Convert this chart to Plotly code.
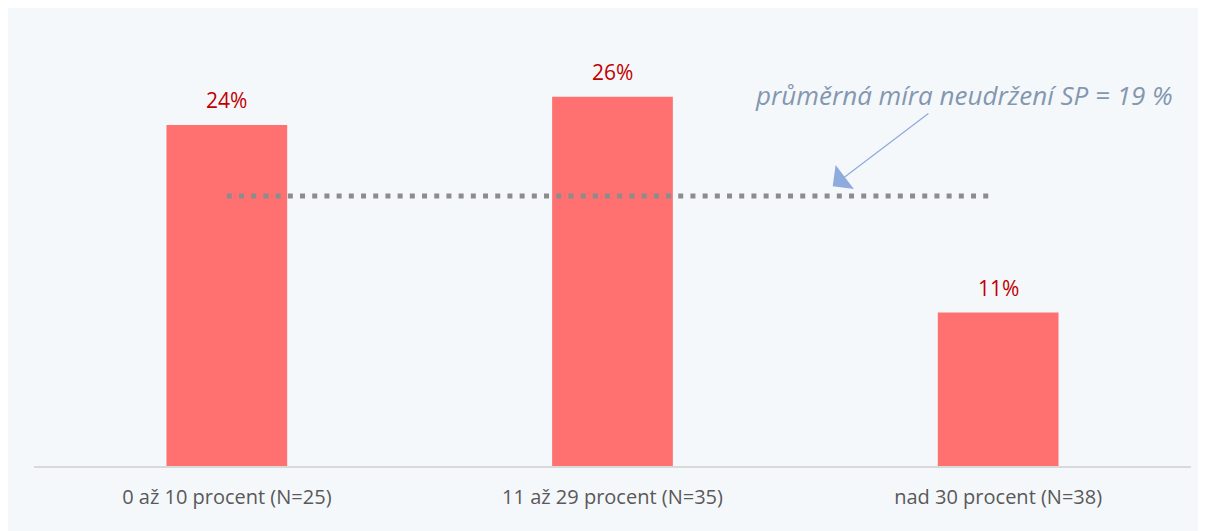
import plotly.graph_objects as go

categories = ['0 až 10 procent (N=25)', '11 až 29 procent (N=35)', 'nad 30 procent (N=38)']
values = [24.0, 26.0, 10.8]
value_labels = ['24%', '26%', '11%']
average = 19
average_text = 'průměrná míra neudržení SP = 19 %'

font_family = "'Open Sans', sans-serif"

fig = go.Figure([
    go.Bar(
        x=categories,
        y=values,
        marker=dict(color='#ff7070', line=dict(width=0)),
        width=0.313,
        hoverinfo='none',
    )
])

# popisky nad sloupci
for c, v, t in zip(categories, values, value_labels):
    fig.add_annotation(
        x=c, y=v, text=t,
        showarrow=False,
        yanchor='bottom',
        yshift=9,
        font=dict(color='#c00000', size=21, family=font_family),
    )

# průměrná linie
fig.add_shape(
    type='line', xref='x', yref='y',
    x0=0, x1=1.98, y0=average, y1=average,
    line=dict(color='#8c8c8c', width=5, dash='5px,7.2px'),
)

fig.add_annotation(
    x=1.911, y=26.1, text=f'<i>{average_text}</i>',
    showarrow=False,
    font=dict(color='#8497b0', size=26, family=font_family),
)
fig.add_annotation(
    x=1.571, y=19.7, ax=1.823, ay=24.9,
    xref='x', yref='y', axref='x', ayref='y',
    text='', showarrow=True,
    arrowhead=1, arrowsize=4.2, arrowwidth=1.2, arrowcolor='#8faadc',
)

fig.update_layout(
    width=1192,
    height=523,
    paper_bgcolor='#f5f8fb',
    plot_bgcolor='#f5f8fb',
    showlegend=False,
    font=dict(family=font_family),
    margin=dict(l=25.5, r=8.5, t=2, b=65, pad=0),
    xaxis=dict(
        showline=True,
        linecolor='#d9d9d9',
        linewidth=1.5,
        ticks='',
        ticklabelstandoff=12,
        tickfont=dict(color='#595959', size=20, family=font_family),
        fixedrange=True,
    ),
    yaxis=dict(
        range=[0, 32.1],
        visible=False,
        fixedrange=True,
    ),
)

fig.write_html('out.html')
